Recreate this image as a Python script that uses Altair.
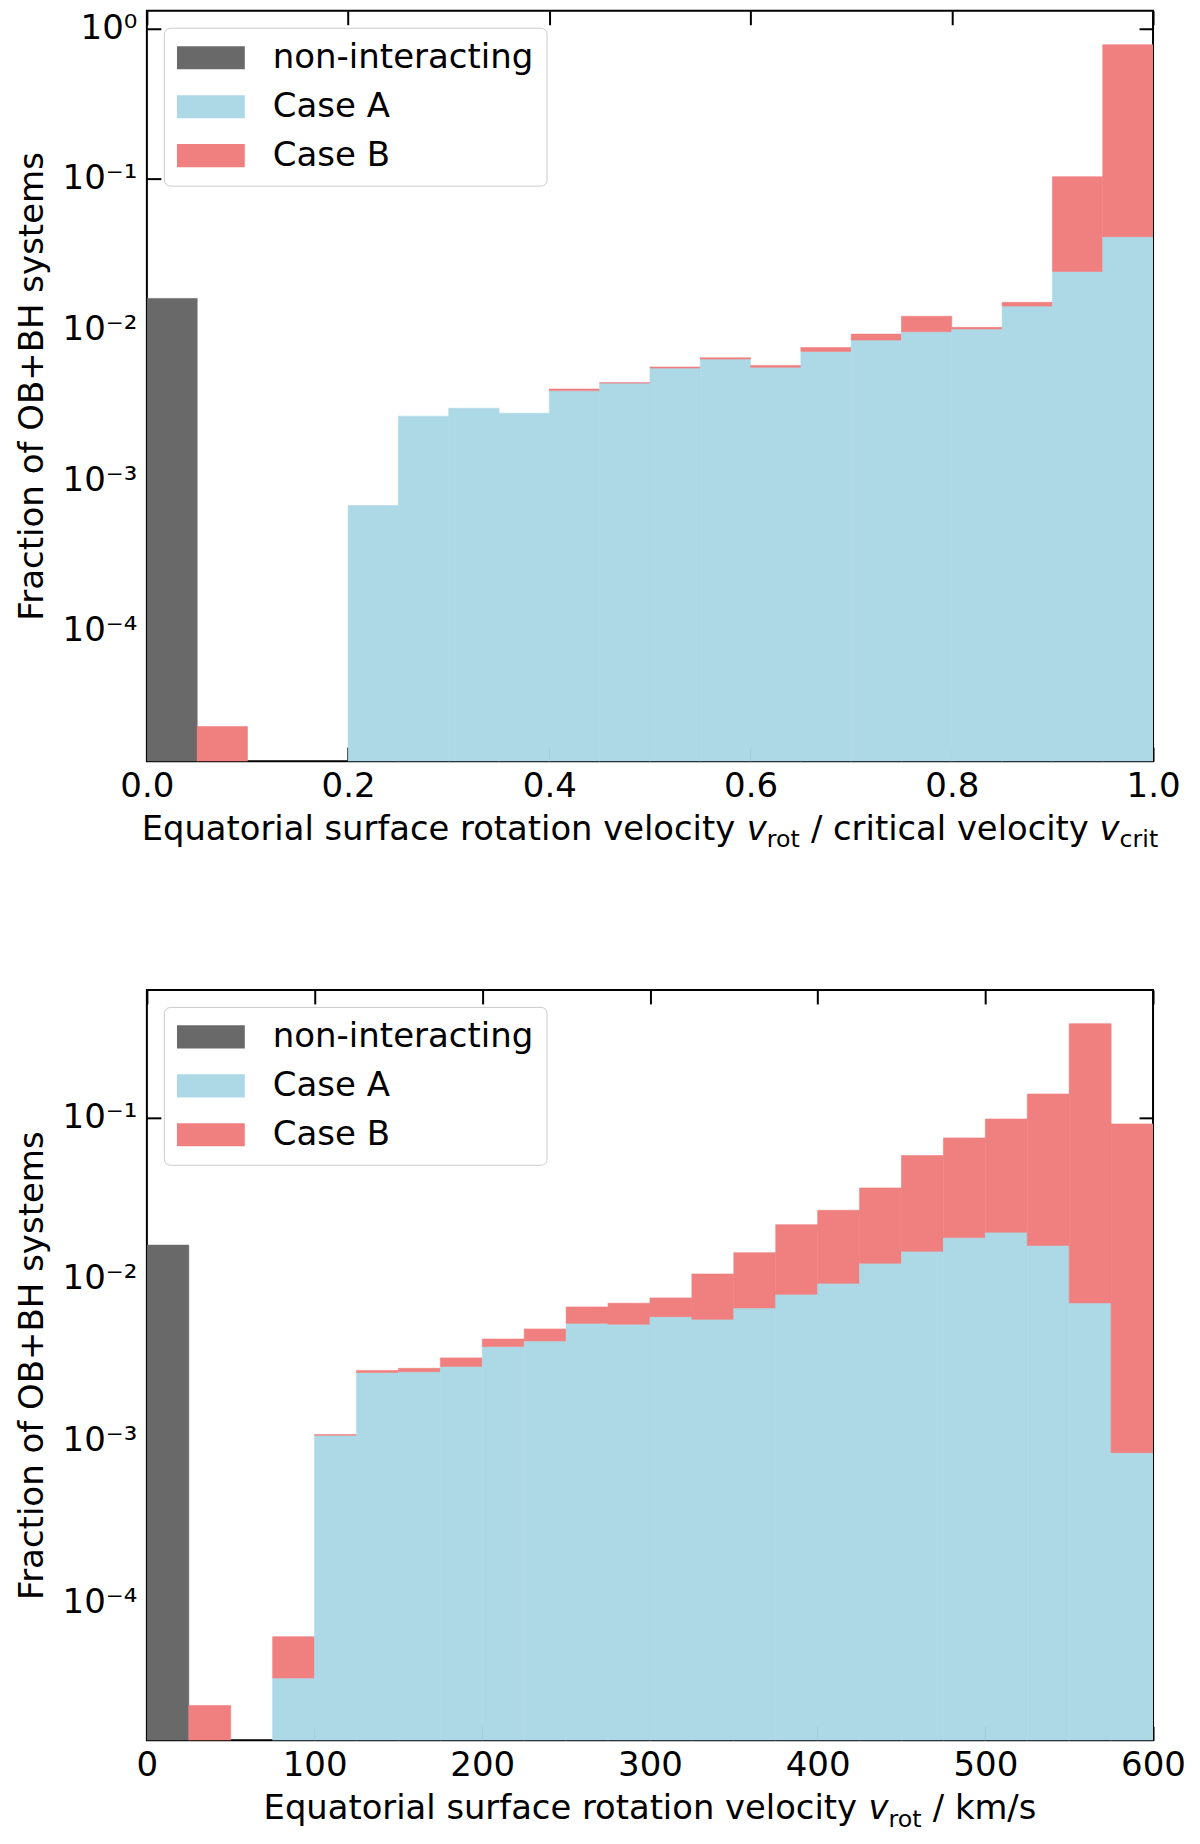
import pandas as pd
import altair as alt

# bin edges of the two histograms
vcrit_edges = [0.0, 0.05, 0.1, 0.15, 0.2, 0.25, 0.3, 0.35, 0.4, 0.45, 0.5,
               0.55, 0.6, 0.65, 0.7, 0.75, 0.8, 0.85, 0.9, 0.95, 1.0]
vrot_edges = [0, 25, 50, 75, 100, 125, 150, 175, 200, 225, 250, 275, 300,
              325, 350, 375, 400, 425, 450, 475, 500, 525, 550, 575, 600]

# top panel: v_rot / v_crit (fractions per bin)
vcrit_nonint = [0.0161, 0, 0, 0, 0, 0, 0, 0, 0, 0,
                0, 0, 0, 0, 0, 0, 0, 0, 0, 0]
vcrit_case_a = [0, 0, 0, 0, 6.77e-4, 2.66e-3, 3.00e-3, 2.78e-3, 3.93e-3, 4.41e-3,
                5.55e-3, 6.37e-3, 5.61e-3, 7.16e-3, 8.51e-3, 9.68e-3, 1.008e-2, 1.432e-2, 2.43e-2, 4.14e-2]
vcrit_case_b = [0, 2.31e-5, 0, 0, 0, 0, 0, 0, 1.0e-4, 3.0e-5,
                9.0e-5, 1.3e-4, 1.7e-4, 4.3e-4, 8.2e-4, 2.56e-3, 2.6e-4, 8.4e-4, 7.93e-2, 0.7376]

# bottom panel: v_rot in km/s
vrot_nonint = [0.0162, 0, 0, 0, 0, 0, 0, 0, 0, 0, 0, 0,
               0, 0, 0, 0, 0, 0, 0, 0, 0, 0, 0, 0]
vrot_case_a = [0, 0, 0, 3.40e-5, 1.08e-3, 2.64e-3, 2.67e-3, 2.88e-3, 3.82e-3, 4.14e-3, 5.32e-3, 5.25e-3,
               5.85e-3, 5.63e-3, 6.62e-3, 8.04e-3, 9.40e-3, 1.250e-2, 1.483e-2, 1.803e-2, 1.945e-2, 1.611e-2, 7.11e-3, 8.43e-4]
vrot_case_b = [0, 2.30e-5, 0, 2.72e-5, 1.0e-5, 8.0e-5, 1.3e-4, 3.7e-4, 4.3e-4, 7.7e-4, 1.40e-3, 1.83e-3,
               1.79e-3, 5.11e-3, 7.93e-3, 1.364e-2, 1.72e-2, 2.41e-2, 4.317e-2, 5.657e-2, 7.825e-2, 0.1234, 0.3724, 0.0902]

SERIES = ['non-interacting', 'Case A', 'Case B']
COLORS = ['#696969', '#add8e6', '#f08080']

FONT = 'DejaVu Sans'
W, H = 1007, 751
TICK = 14
FS = 34
MAIN, SUB = 33.8, 23.7

# DejaVu Sans advance widths (units per em = 2048), used to lay out the mathtext-like x titles
ADV = {' ': 651, 'E': 1294, 'q': 1300, 'u': 1298, 'a': 1255, 't': 803, 'o': 1253,
       'r': 842, 'i': 569, 'l': 569, 's': 1067, 'f': 721, 'c': 1126, 'e': 1260,
       'v': 1212, 'y': 1212, 'n': 1298, 'k': 1186, 'm': 1995, '/': 690}


def text_width(s, size):
    return sum(ADV[c] for c in s) * size / 2048


def hist_frame(edges, nonint, case_a, case_b, floor):
    rows = []
    for i in range(len(nonint)):
        lo, hi = edges[i], edges[i + 1]
        if nonint[i] > 0:
            rows.append(dict(lo=lo, hi=hi, series='non-interacting', top=nonint[i], base=floor))
        if case_a[i] > 0:
            rows.append(dict(lo=lo, hi=hi, series='Case A', top=case_a[i], base=floor))
        if case_b[i] > 0:
            rows.append(dict(lo=lo, hi=hi, series='Case B', top=case_a[i] + case_b[i],
                             base=case_a[i] if case_a[i] > 0 else floor))
    return pd.DataFrame(rows)


def x_title(pieces):
    sizes = {'roman': MAIN, 'italic': MAIN, 'sub': SUB}
    total = sum(text_width(t, sizes[k]) for t, k in pieces)
    x = (W - total) / 2
    layers = []
    for t, k in pieces:
        lead = len(t) - len(t.lstrip(' '))
        layers.append(
            alt.Chart(alt.Data(values=[{}])).mark_text(
                text=t.strip(), align='left', baseline='alphabetic', font=FONT,
                fontSize=sizes[k], fontStyle='italic' if k == 'italic' else 'normal',
                color='black',
            ).encode(
                x=alt.value(x + text_width(' ' * lead, sizes[k])),
                y=alt.value(H + 79 + (7.3 if k == 'sub' else 0)),
            )
        )
        x += text_width(t, sizes[k])
    return layers


SUPS = "['⁰','⁻¹','⁻²','⁻³','⁻⁴','⁻⁵']"
LEGEND_SYMBOL = 'M-1,-0.34L1,-0.34L1,0.34L-1,0.34Z'


def panel(df, x_dom, x_ticks, x_fmt, y_dom, y_ticks, title_pieces):
    xs = alt.Scale(domain=x_dom, nice=False, zero=False)
    ys = alt.Scale(type='log', domain=y_dom, nice=False)
    colors = alt.Scale(domain=SERIES, range=COLORS)
    bars = alt.Chart(df).mark_bar(clip=True, strokeWidth=0.6, opacity=1).encode(
        x=alt.X('lo:Q', scale=xs,
                axis=alt.Axis(orient='bottom', values=x_ticks, format=x_fmt, title=None,
                              offset=-TICK, labelPadding=8, labelFlush=False)),
        x2='hi:Q',
        y=alt.Y('top:Q', scale=ys,
                axis=alt.Axis(orient='left', values=y_ticks, title='Fraction of OB+BH systems',
                              labelExpr="'10' + " + SUPS + "[round(-log(datum.value) / LN10)]",
                              offset=-TICK, labelPadding=10, titlePadding=13)),
        y2='base:Q',
        stroke=alt.Stroke('series:N', scale=colors, legend=None),
        color=alt.Color('series:N', scale=colors,
                        legend=alt.Legend(title=None, orient='top-left', offset=17, padding=13,
                                          clipHeight=FS, rowPadding=15, labelFontSize=FS,
                                          labelFont=FONT, labelOffset=28, labelLimit=500,
                                          labelColor='black', symbolType=LEGEND_SYMBOL,
                                          symbolSize=68 ** 2, symbolStrokeWidth=0,
                                          symbolOpacity=1, strokeColor='#cccccc',
                                          fillColor='white', cornerRadius=6)),
    )
    frame = alt.Chart(df).mark_point(opacity=0).encode(
        x=alt.X('lo:Q', scale=xs,
                axis=alt.Axis(orient='top', values=x_ticks, labels=False, title=None,
                              offset=-TICK, minExtent=0)),
        y=alt.Y('top:Q', scale=ys,
                axis=alt.Axis(orient='right', values=y_ticks, labels=False, title=None,
                              offset=-TICK, minExtent=0)),
    )
    return alt.layer(bars, frame, *x_title(title_pieces)).resolve_axis(
        x='independent', y='independent'
    ).properties(width=W, height=H)


top_df = hist_frame(vcrit_edges, vcrit_nonint, vcrit_case_a, vcrit_case_b, 1e-6)
bottom_df = hist_frame(vrot_edges, vrot_nonint, vrot_case_a, vrot_case_b, 1e-6)

top = panel(top_df, [0, 1], [0, 0.2, 0.4, 0.6, 0.8, 1.0], '.1f',
            [1.36e-5, 1.31], [1, 0.1, 0.01, 0.001, 0.0001],
            [('Equatorial surface rotation velocity ', 'roman'), ('v', 'italic'), ('rot', 'sub'),
             (' / critical velocity ', 'roman'), ('v', 'italic'), ('crit', 'sub')])

bottom = panel(bottom_df, [0, 600], [0, 100, 200, 300, 400, 500, 600], 'd',
               [1.40e-5, 0.614], [0.1, 0.01, 0.001, 0.0001],
               [('Equatorial surface rotation velocity ', 'roman'), ('v', 'italic'), ('rot', 'sub'),
                (' / km/s', 'roman')])

chart = alt.vconcat(top, bottom, spacing=229, bounds='flush').resolve_scale(
    color='independent', stroke='independent'
).properties(
    padding={'left': 6, 'top': 0, 'right': 5, 'bottom': 0},
).configure_axis(
    labelFont=FONT, titleFont=FONT, labelFontSize=FS, titleFontSize=FS,
    titleFontWeight='normal', labelColor='black', titleColor='black',
    tickColor='black', tickWidth=2, tickSize=TICK, domain=False, grid=False,
).configure_view(
    stroke='black', strokeWidth=2,
)

chart.save('out.html', embed_options={'renderer': 'svg', 'actions': False})
